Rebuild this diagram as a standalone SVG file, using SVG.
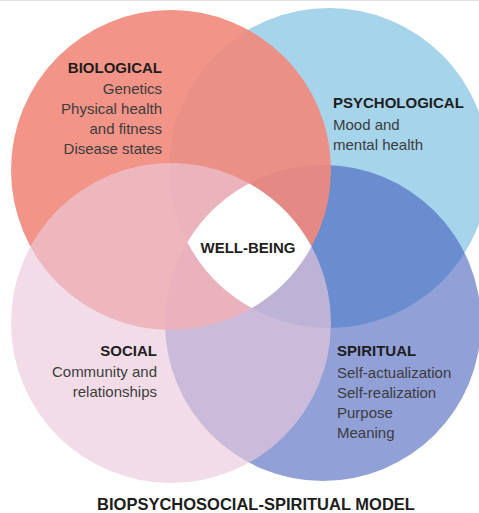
<svg xmlns="http://www.w3.org/2000/svg" width="479" height="513" viewBox="0 0 479 513">
  <style>
    .head { font-family: "Liberation Sans", Arial, sans-serif; font-weight: bold; font-size: 15px; fill: #1e1e1e; }
    .body { font-family: "Liberation Sans", Arial, sans-serif; font-size: 15px; fill: #3c3c3c; }
    .title { font-family: "Liberation Sans", Arial, sans-serif; font-weight: bold; font-size: 16.5px; fill: #1e1e1e; }
  </style>
  <rect x="0" y="0" width="479" height="513" fill="#ffffff"/>
  <line x1="0" y1="0.5" x2="479" y2="0.5" stroke="#e2e2e2" stroke-width="1"/>

  <g id="psychological">
    <circle cx="329" cy="168" r="160" fill="rgb(166,212,235)"/>
    <text class="head" x="333" y="108">PSYCHOLOGICAL</text>
    <text class="body" x="333" y="130">Mood and</text>
    <text class="body" x="333" y="150">mental health</text>
  </g>

  <g id="spiritual">
    <circle cx="323" cy="323" r="158" fill="rgb(55,82,182)" fill-opacity="0.55"/>
    <text class="head" x="337" y="356">SPIRITUAL</text>
    <text class="body" x="337" y="378">Self-actualization</text>
    <text class="body" x="337" y="398">Self-realization</text>
    <text class="body" x="337" y="418">Purpose</text>
    <text class="body" x="337" y="438">Meaning</text>
  </g>

  <g id="biological">
    <circle cx="171" cy="170" r="160" fill="rgb(242,136,123)" fill-opacity="0.9"/>
    <g text-anchor="end">
      <text class="head" x="162" y="73">BIOLOGICAL</text>
      <text class="body" x="162" y="94">Genetics</text>
      <text class="body" x="162" y="114">Physical health</text>
      <text class="body" x="162" y="134">and fitness</text>
      <text class="body" x="162" y="154">Disease states</text>
    </g>
  </g>

  <g id="social">
    <circle cx="171" cy="323" r="160" fill="rgb(235,200,219)" fill-opacity="0.645"/>
    <g text-anchor="end">
      <text class="head" x="157" y="356">SOCIAL</text>
      <text class="body" x="157" y="377">Community and</text>
      <text class="body" x="157" y="397">relationships</text>
    </g>
  </g>

  <g id="well-being">
    <path d="M249.1,183.4 A160,160 0 0 1 311.5,246.5 A160,160 0 0 1 251.8,308.1 A160,160 0 0 1 187.3,242.2 A158,158 0 0 1 249.1,183.4 Z" fill="#ffffff"/>
    <text class="head" x="248" y="253" text-anchor="middle">WELL-BEING</text>
  </g>

  <g id="connectors"/>

  <g id="caption">
    <text class="title" x="256" y="510" text-anchor="middle">BIOPSYCHOSOCIAL-SPIRITUAL MODEL</text>
  </g>
</svg>
